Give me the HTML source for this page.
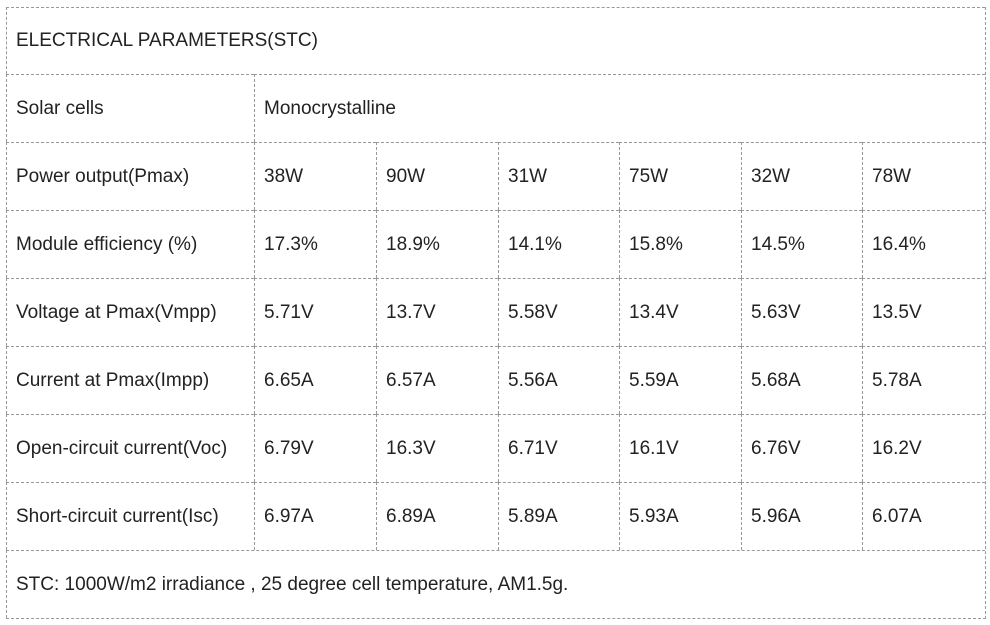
<!DOCTYPE html>
<html><head><meta charset="utf-8"><style>
body{margin:0;background:#fff;width:990px;height:625px;position:relative;overflow:hidden;font-family:"Liberation Sans",sans-serif;font-size:19px;color:#222}
.c{position:absolute;box-sizing:border-box;border-left:1px dashed #999;border-top:1px dashed #999;display:flex;align-items:center;padding-left:9px;white-space:nowrap}
</style></head><body>
<div id="t"></div>
<div class="c" style="left:6px;top:618px;width:980px;height:1px;padding:0"></div>
<div class="c" style="left:985px;top:7px;width:1px;height:612px;padding:0;border-top:none"></div>
<script>
const rowsY=[7,74,142,210,278,346,414,482,550,618];
const colsX=[6,254,376,498,619,741,862,985];
const labels=["Power output(Pmax)","Module efficiency (%)","Voltage at Pmax(Vmpp)","Current at Pmax(Impp)","Open-circuit current(Voc)","Short-circuit current(Isc)"];
const values=[["38W","90W","31W","75W","32W","78W"],["17.3%","18.9%","14.1%","15.8%","14.5%","16.4%"],["5.71V","13.7V","5.58V","13.4V","5.63V","13.5V"],["6.65A","6.57A","5.56A","5.59A","5.68A","5.78A"],["6.79V","16.3V","6.71V","16.1V","6.76V","16.2V"],["6.97A","6.89A","5.89A","5.93A","5.96A","6.07A"]];
function cell(x1,x2,y1,y2,txt,name){
 const d=document.createElement('div');d.className='c';
 
 
 d.style.left=x1+'px';d.style.top=y1+'px';d.style.width=(x2-x1)+'px';d.style.height=(y2-y1)+'px';
 d.textContent=txt;document.body.appendChild(d);
}
cell(6,985,rowsY[0],rowsY[1],"ELECTRICAL PARAMETERS(STC)","table-title");
cell(6,254,rowsY[1],rowsY[2],"Solar cells","solar-cells-label");
cell(254,985,rowsY[1],rowsY[2],"Monocrystalline","solar-cells-value");
labels.forEach((l,i)=>{
 cell(colsX[0],colsX[1],rowsY[i+2],rowsY[i+3],l,'row-label');
 values[i].forEach((v,j)=>cell(colsX[j+1],colsX[j+2],rowsY[i+2],rowsY[i+3],v,'value-cell'));
});
cell(6,985,rowsY[8],rowsY[9],"STC: 1000W/m2 irradiance , 25 degree cell temperature, AM1.5g.","stc-footnote");
</script>
</body></html>
